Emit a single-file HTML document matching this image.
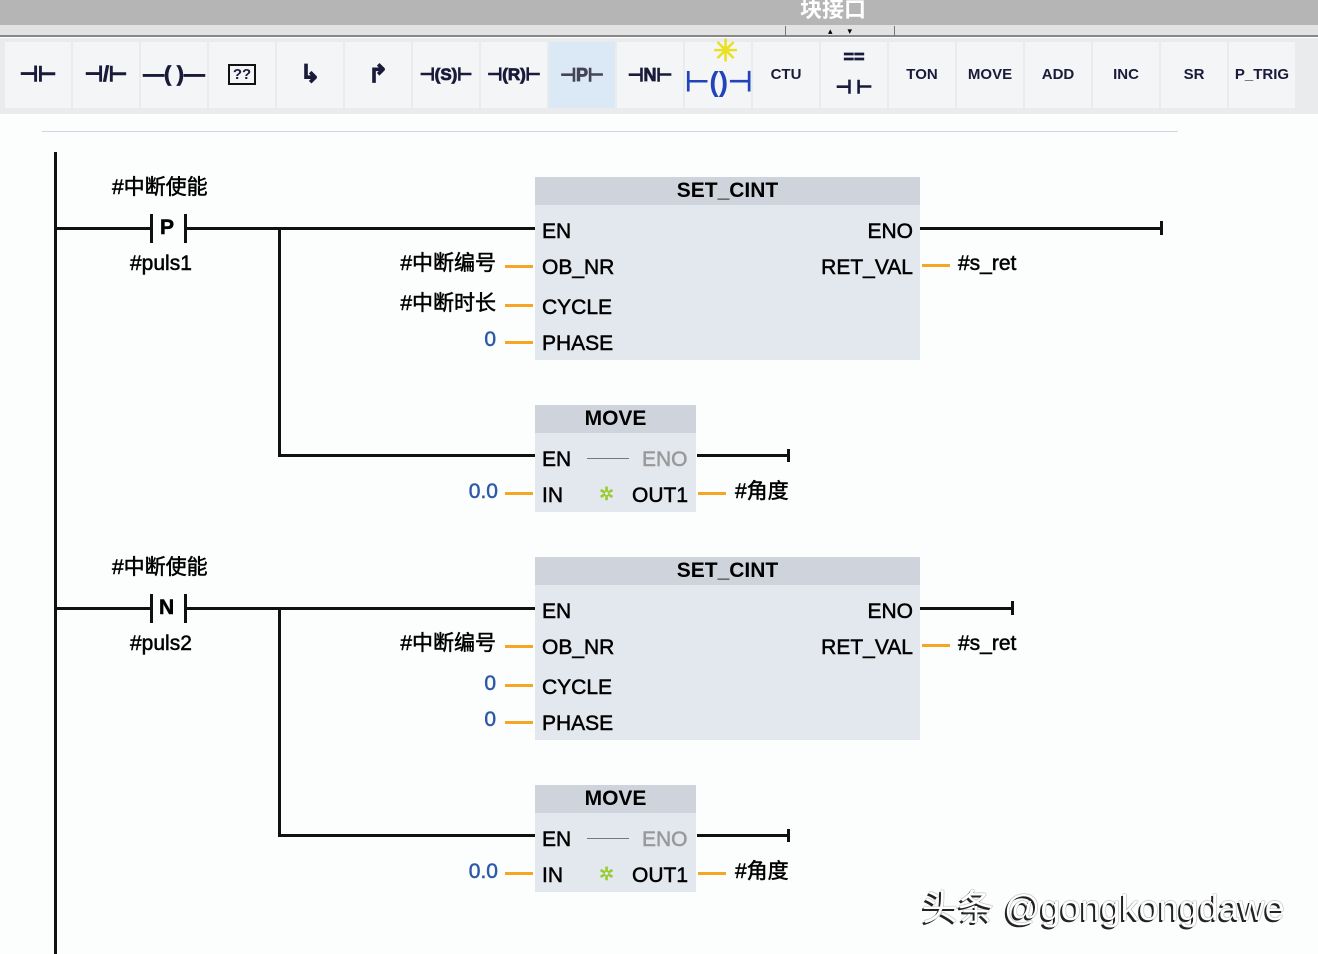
<!DOCTYPE html>
<html><head><meta charset="utf-8"><style>
*{margin:0;padding:0;box-sizing:border-box}
body{width:1318px;height:954px;overflow:hidden;background:#fcfdfd;position:relative;font-family:"Liberation Sans","Noto Sans CJK SC",sans-serif;color:#000}
.a{position:absolute}
.t{position:absolute;height:26px;line-height:26px;font-size:21px;white-space:nowrap;-webkit-text-stroke:0.5px currentColor}
.r{text-align:right}
.k{background:#111}
.o{background:#f5a623;height:3px}
.blk{position:absolute;background:#e3e7ee}
.hd{position:absolute;left:0;right:0;top:0;height:28px;background:#cfd4dc;font-weight:bold;font-size:21px;line-height:28px;text-align:center}
.btn{position:absolute;top:42px;width:66px;height:66px;background:#f4f5f6;font-size:15px;line-height:66px;text-align:center;font-weight:bold;color:#1a1a3a}
.sy{font-size:21px;-webkit-text-stroke:0.8px currentColor}
.blue{color:#2d5aa8}
</style></head><body>
<!-- header -->
<div class="a" style="left:0;top:0;width:1318px;height:25px;background:#b5b5b5"></div>
<div class="a" style="left:800px;top:-8px;font-size:22px;font-weight:bold;color:#fff">块接口</div>
<div class="a" style="left:0;top:25px;width:1318px;height:12px;background:#e2e2e2;border-bottom:2px solid #888"></div>
<div class="a" style="left:785px;top:26px;width:110px;height:10px;border-left:1px solid #777;border-right:1px solid #777;font-size:9px;text-align:center;line-height:10px">▴ &nbsp;&nbsp;&nbsp;&nbsp; ▾</div>
<div class="a" style="left:0;top:38px;width:1318px;height:76px;background:#eaebec"></div>
<div class="btn sy" style="left:5px">⊣⊢</div>
<div class="btn sy" style="left:73px">⊣/⊢</div>
<div class="btn sy" style="left:141px">—( )—</div>
<div class="btn" style="left:209px"><span style="border:2px solid #111;padding:0 3px">??</span></div>
<div class="btn sy" style="left:277px;font-size:24px">↳</div>
<div class="btn sy" style="left:345px;font-size:24px">↱</div>
<div class="btn sy" style="left:413px;font-size:17px">⊣(S)⊢</div>
<div class="btn sy" style="left:481px;font-size:17px">⊣(R)⊢</div>
<div class="btn sy" style="left:549px;background:#dbe9f6;color:#445;font-size:18px">⊣P⊢</div>
<div class="btn sy" style="left:617px;font-size:18px">⊣N⊢</div>
<div class="btn" style="left:685px;color:#2244bb;font-size:28px;line-height:80px">⊢()⊣<span class="a" style="left:28px;top:-20px;color:#e8e020;font-size:30px;line-height:60px">✳</span></div>
<div class="btn" style="left:753px">CTU</div>
<div class="btn sy" style="left:821px;line-height:30px;font-size:18px">==<br>⊣ ⊢</div>
<div class="btn" style="left:889px">TON</div>
<div class="btn" style="left:957px">MOVE</div>
<div class="btn" style="left:1025px">ADD</div>
<div class="btn" style="left:1093px">INC</div>
<div class="btn" style="left:1161px">SR</div>
<div class="btn" style="left:1229px">P_TRIG</div>
<div class="a" style="left:42px;top:131px;width:1136px;height:1px;background:#cdd6e0"></div>

<!-- power rail -->
<div class="a k" style="left:54px;top:152px;width:3px;height:802px"></div>

<!-- ===== Rung 1 ===== -->
<div class="t" style="left:112px;top:175px">#中断使能</div>
<div class="a k" style="left:55px;top:227px;width:96px;height:3px"></div>
<div class="a k" style="left:150px;top:214px;width:3px;height:29px"></div>
<div class="t" style="left:160px;top:215px;font-weight:bold">P</div>
<div class="a k" style="left:184px;top:214px;width:3px;height:29px"></div>
<div class="a k" style="left:186px;top:227px;width:349px;height:3px"></div>
<div class="t" style="left:130px;top:251px">#puls1</div>
<div class="a k" style="left:278px;top:228px;width:3px;height:229px"></div>
<div class="a k" style="left:278px;top:454px;width:257px;height:3px"></div>

<div class="blk" style="left:535px;top:177px;width:385px;height:183px"><div class="hd">SET_CINT</div></div>
<div class="t" style="left:542px;top:219px">EN</div>
<div class="t" style="left:542px;top:255px">OB_NR</div>
<div class="t" style="left:542px;top:295px">CYCLE</div>
<div class="t" style="left:542px;top:331px">PHASE</div>
<div class="t r" style="left:780px;top:219px;width:133px">ENO</div>
<div class="t r" style="left:780px;top:255px;width:133px">RET_VAL</div>
<div class="a k" style="left:920px;top:227px;width:243px;height:3px"></div>
<div class="a k" style="left:1160px;top:221px;width:3px;height:14px"></div>
<div class="a o" style="left:922px;top:264px;width:28px"></div>
<div class="t" style="left:958px;top:251px">#s_ret</div>
<div class="t r" style="left:300px;top:251px;width:196px">#中断编号</div>
<div class="t r" style="left:300px;top:291px;width:196px">#中断时长</div>
<div class="t r blue" style="left:300px;top:327px;width:196px">0</div>
<div class="a o" style="left:505px;top:265px;width:28px"></div>
<div class="a o" style="left:505px;top:304px;width:28px"></div>
<div class="a o" style="left:505px;top:341px;width:28px"></div>

<div class="blk" style="left:535px;top:405px;width:161px;height:107px"><div class="hd">MOVE</div></div>
<div class="t" style="left:542px;top:447px">EN</div>
<div class="a" style="left:587px;top:458px;width:42px;height:1px;background:#777"></div>
<div class="t" style="left:642px;top:447px;color:#999">ENO</div>
<div class="t" style="left:542px;top:483px">IN</div>
<div class="t" style="left:599px;top:481px;color:#9c3;font-size:18px">✲</div>
<div class="t" style="left:632px;top:483px">OUT1</div>
<div class="a k" style="left:697px;top:454px;width:93px;height:3px"></div>
<div class="a k" style="left:787px;top:449px;width:3px;height:13px"></div>
<div class="a o" style="left:505px;top:492px;width:28px"></div>
<div class="t r blue" style="left:400px;top:479px;width:98px">0.0</div>
<div class="a o" style="left:698px;top:492px;width:28px"></div>
<div class="t" style="left:735px;top:479px">#角度</div>

<!-- ===== Rung 2 ===== -->
<div class="t" style="left:112px;top:555px">#中断使能</div>
<div class="a k" style="left:55px;top:607px;width:96px;height:3px"></div>
<div class="a k" style="left:150px;top:594px;width:3px;height:29px"></div>
<div class="t" style="left:159px;top:595px;font-weight:bold">N</div>
<div class="a k" style="left:184px;top:594px;width:3px;height:29px"></div>
<div class="a k" style="left:186px;top:607px;width:349px;height:3px"></div>
<div class="t" style="left:130px;top:631px">#puls2</div>
<div class="a k" style="left:278px;top:608px;width:3px;height:229px"></div>
<div class="a k" style="left:278px;top:834px;width:257px;height:3px"></div>

<div class="blk" style="left:535px;top:557px;width:385px;height:183px"><div class="hd">SET_CINT</div></div>
<div class="t" style="left:542px;top:599px">EN</div>
<div class="t" style="left:542px;top:635px">OB_NR</div>
<div class="t" style="left:542px;top:675px">CYCLE</div>
<div class="t" style="left:542px;top:711px">PHASE</div>
<div class="t r" style="left:780px;top:599px;width:133px">ENO</div>
<div class="t r" style="left:780px;top:635px;width:133px">RET_VAL</div>
<div class="a k" style="left:920px;top:607px;width:94px;height:3px"></div>
<div class="a k" style="left:1011px;top:601px;width:3px;height:14px"></div>
<div class="a o" style="left:922px;top:644px;width:28px"></div>
<div class="t" style="left:958px;top:631px">#s_ret</div>
<div class="t r" style="left:300px;top:631px;width:196px">#中断编号</div>
<div class="t r blue" style="left:300px;top:671px;width:196px">0</div>
<div class="t r blue" style="left:300px;top:707px;width:196px">0</div>
<div class="a o" style="left:505px;top:645px;width:28px"></div>
<div class="a o" style="left:505px;top:684px;width:28px"></div>
<div class="a o" style="left:505px;top:721px;width:28px"></div>

<div class="blk" style="left:535px;top:785px;width:161px;height:107px"><div class="hd">MOVE</div></div>
<div class="t" style="left:542px;top:827px">EN</div>
<div class="a" style="left:587px;top:838px;width:42px;height:1px;background:#777"></div>
<div class="t" style="left:642px;top:827px;color:#999">ENO</div>
<div class="t" style="left:542px;top:863px">IN</div>
<div class="t" style="left:599px;top:861px;color:#9c3;font-size:18px">✲</div>
<div class="t" style="left:632px;top:863px">OUT1</div>
<div class="a k" style="left:697px;top:834px;width:93px;height:3px"></div>
<div class="a k" style="left:787px;top:829px;width:3px;height:13px"></div>
<div class="a o" style="left:505px;top:872px;width:28px"></div>
<div class="t r blue" style="left:400px;top:859px;width:98px">0.0</div>
<div class="a o" style="left:698px;top:872px;width:28px"></div>
<div class="t" style="left:735px;top:859px">#角度</div>

<!-- watermark -->
<div class="a" style="left:922px;top:886px;font-size:36px;line-height:44px;color:#fff;text-shadow:-2px 2px 0 #222,0 0 1px #222;white-space:nowrap">头条 @gongkongdawe</div>
</body></html>
